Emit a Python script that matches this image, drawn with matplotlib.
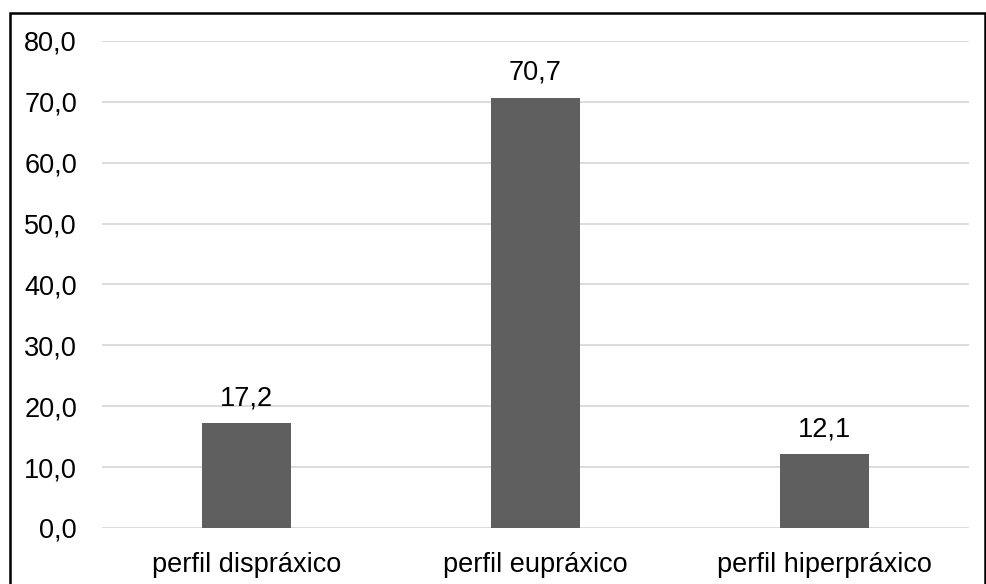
import matplotlib

matplotlib.use("Agg")
import matplotlib.pyplot as plt
from matplotlib.patches import Rectangle

categories = ["perfil dispráxico", "perfil eupráxico", "perfil hiperpráxico"]
values = [17.2, 70.7, 12.1]
yticks = [0, 10, 20, 30, 40, 50, 60, 70, 80]


def fmt(v: float) -> str:
    return f"{v:.1f}".replace(".", ",")


plt.rcParams["font.family"] = ["Liberation Sans", "DejaVu Sans"]

fig = plt.figure(figsize=(9.87, 5.84), dpi=100)
ax = fig.add_axes([0.1033, 0.0959, 0.8785, 0.8339])

x = list(range(len(categories)))
bars = ax.bar(x, values, width=0.31, color="#5f5f5f", zorder=3)

for b, v in zip(bars, values):
    ax.annotate(fmt(v), (b.get_x() + b.get_width() / 2, v), xytext=(0, 13),
                textcoords="offset points", ha="center", va="baseline",
                fontsize=19.5, color="black")

ax.set_xlim(-0.5, len(categories) - 0.5)
ax.set_ylim(0, 80)
ax.set_yticks(yticks)
ax.set_yticklabels([fmt(t) for t in yticks])
ax.set_xticks(x)
ax.set_xticklabels(categories)
ax.tick_params(axis="both", length=0, labelsize=19.5, colors="black")
ax.tick_params(axis="y", pad=18)
ax.tick_params(axis="x", pad=17)
ax.grid(axis="y", color="#d9d9d9", linewidth=1.3, zorder=0)
for s in ax.spines.values():
    s.set_visible(False)

# outer frame, open at the bottom edge
fig.patches.append(Rectangle((9.5 / 987, -0.1), (985.5 - 9.5) / 987, 1.1 - 13 / 584,
                             transform=fig.transFigure, fill=False,
                             edgecolor="black", linewidth=1.8))

fig.savefig("out.png", dpi=100)
